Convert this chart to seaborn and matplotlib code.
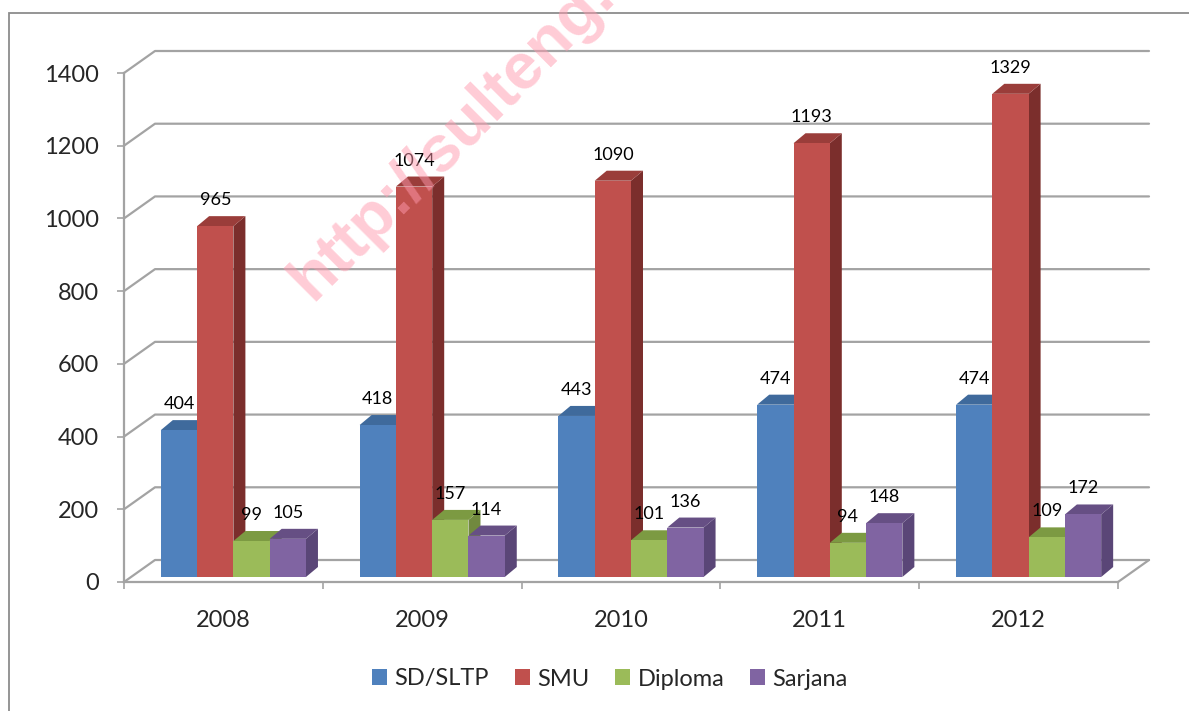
import numpy as np
import pandas as pd
import matplotlib
matplotlib.use("Agg")
import matplotlib.pyplot as plt
import seaborn as sns
from matplotlib.patches import Polygon, Rectangle, Patch
from matplotlib.lines import Line2D
from matplotlib.transforms import IdentityTransform, ScaledTranslation

# ---------------- data ----------------
years = ["2008", "2009", "2010", "2011", "2012"]
series_names = ["SD/SLTP", "SMU", "Diploma", "Sarjana"]
sd_sltp = [404, 418, 443, 474, 474]
smu = [965, 1074, 1090, 1193, 1329]
diploma = [99, 157, 101, 94, 109]
sarjana = [105, 114, 136, 148, 172]
y_ticks = [0, 200, 400, 600, 800, 1000, 1200, 1400]

front_colors = ["#4F81BD", "#C0504D", "#9BBB59", "#8064A2"]
side_colors = ["#385D8A", "#7B2E2C", "#71893F", "#5A4677"]
top_colors = ["#3F6A9C", "#9A3D3A", "#7C9A42", "#664F84"]

sns.set_style("white")
plt.rcParams["font.family"] = ["Lato", "DejaVu Sans"]

W, H = 1189, 711
fig = plt.figure(figsize=(W / 100, H / 100), dpi=100)
ax = fig.add_axes([124 / W, (H - 582) / H, (1118 - 124) / W, (582 - 73) / H])
ax.set_facecolor("none")

df = pd.DataFrame({
    "Tahun": years * 4,
    "Pendidikan": np.repeat(series_names, len(years)),
    "Jumlah": sd_sltp + smu + diploma + sarjana,
})

sns.barplot(data=df, x="Tahun", y="Jumlah", hue="Pendidikan",
            order=years, hue_order=series_names,
            palette=dict(zip(series_names, front_colors)),
            width=0.73, saturation=1, linewidth=0, errorbar=None,
            legend=False, ax=ax)
ax.set_xlim(-0.5, 4.5)
ax.set_ylim(0, 1400)

GRID_C = "#A3A3A3"
DXB, DYB = 10, 5        # bar front face offset from the front plane (px)
DEPX, DEPY = 12, 10     # bar depth (px)
WALLX, WALLY = 31, 22   # back wall offset (px)

bars = list(ax.patches)
off = ScaledTranslation(DXB / 100, DYB / 100, fig.dpi_scale_trans)
for k, p in enumerate(bars):
    j = k // len(years)
    x0, w, h = p.get_x(), p.get_width(), p.get_height()
    xl, yb = ax.transData.transform((x0, 0)) + np.array([DXB, DYB])
    xr, yt = ax.transData.transform((x0 + w, h)) + np.array([DXB, DYB])
    p.set_transform(ax.transData + off)
    p.set_zorder(3 + j)
    p.set_clip_on(False)
    side = Polygon([(xr, yb), (xr, yt), (xr + DEPX, yt + DEPY), (xr + DEPX, yb + DEPY)],
                   closed=True, facecolor=side_colors[j], edgecolor="none",
                   transform=IdentityTransform(), zorder=2.5 + j, clip_on=False)
    top = Polygon([(xl, yt), (xr, yt), (xr + DEPX, yt + DEPY), (xl + DEPX, yt + DEPY)],
                  closed=True, facecolor=top_colors[j], edgecolor="none",
                  transform=IdentityTransform(), zorder=2.5 + j, clip_on=False)
    ax.add_patch(side)
    ax.add_patch(top)
    ax.annotate(f"{int(round(h))}", xy=(x0 + w / 2, h), xytext=(DXB, DYB + 26),
                textcoords="offset pixels", ha="center", va="center",
                fontsize=13, color="black", zorder=20, annotation_clip=False)

# back wall gridlines with the left-side diagonals
x_front_right = ax.transData.transform((4.5, 0))[0]
for v in y_ticks:
    px, py = ax.transData.transform((-0.5, v))
    ax.add_line(Line2D([px, px + WALLX, x_front_right + WALLX],
                       [py, py + WALLY, py + WALLY],
                       transform=IdentityTransform(), color=GRID_C, lw=1.6,
                       zorder=1, clip_on=False))
# right edge of floor
fx, fy = ax.transData.transform((4.5, 0))
ax.add_line(Line2D([fx, fx + WALLX], [fy, fy + WALLY], transform=IdentityTransform(),
                   color=GRID_C, lw=1.6, zorder=1, clip_on=False))

for s in ["top", "right"]:
    ax.spines[s].set_visible(False)
for s in ["left", "bottom"]:
    ax.spines[s].set_color(GRID_C)
    ax.spines[s].set_linewidth(1.6)

ax.set_yticks(y_ticks)
ax.set_yticklabels([str(t) for t in y_ticks])
ax.tick_params(axis="y", length=5, width=1.2, color=GRID_C, pad=13, labelsize=17,
               direction="out", left=True)
ax.set_xticks(range(len(years)))
ax.set_xticklabels(years)
ax.tick_params(axis="x", which="major", length=0, pad=20, labelsize=17)
ax.set_xticks(np.arange(-0.5, len(years), 1.0), minor=True)
ax.tick_params(axis="x", which="minor", length=5, width=1.2, color=GRID_C,
               direction="out", bottom=True)
ax.set_xlabel("")
ax.set_ylabel("")
ax.grid(False)

handles = [Patch(facecolor=c, edgecolor="none", label=n)
           for n, c in zip(series_names, front_colors)]
fig.legend(handles=handles, loc="center", bbox_to_anchor=(610 / W, 1 - 679 / H),
           ncol=4, frameon=False, fontsize=17, handlelength=0.64, handleheight=0.64,
           handletextpad=0.3, columnspacing=1.1)

# watermark
fig.text(312 / W, 1 - 302 / H, "http://sulteng.bps.go.id", rotation=45,
         rotation_mode="anchor", ha="left", va="baseline", fontsize=47,
         fontweight="bold", family=["Liberation Sans", "DejaVu Sans"],
         color="#FF9AAE", alpha=0.5, zorder=30)

# outer border
fig.add_artist(Rectangle((9, -5), 1200, 703, transform=IdentityTransform(),
                         fill=False, edgecolor="#8C8C8C", lw=1.3))

fig.savefig("out.png", dpi=100)
